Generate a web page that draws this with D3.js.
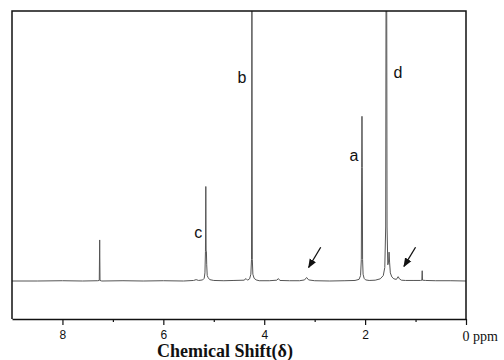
<!DOCTYPE html>
<html><head><meta charset="utf-8">
<script src="https://cdn.jsdelivr.net/npm/d3@7/dist/d3.min.js"></script>
<style>html,body{margin:0;padding:0;background:#fff;}</style>
</head><body>
<svg id="chart" width="504" height="360"></svg>
<script>
// ---- data ----
const majorTicks = [8, 6, 4, 2, 0];
const minorTicks = [7, 5, 3, 1];
const tickLabels = ["8", "6", "4", "2", "0 ppm"];
const xTitle = "Chemical Shift(δ)";
// spectrum points: [ppm, intensity]
const spectrum = [
  [9.0,0],[8.5,0],[8.0,0.1],[7.6,0],[7.30,0.1],[7.27,0.2],[7.262,15.2],[7.255,0.2],[7.22,0],
  [6.8,0.1],[6.4,0],[6.0,0.1],[5.6,0],[5.40,0.2],[5.35,0.5],[5.30,0.2],[5.22,0.4],[5.19,1],[5.175,3],
  [5.165,11],[5.158,35],[5.152,11],[5.146,11],[5.14,6],[5.13,2],[5.11,1.2],[5.08,0.5],[5.0,0.2],
  [4.8,0.1],[4.6,0.2],[4.40,0.3],[4.36,0.9],[4.33,0.3],[4.29,0.8],[4.265,2.5],[4.252,8],[4.244,110],
  [4.236,8],[4.225,2.5],[4.20,1],[4.16,0.4],[4.1,0.1],[3.9,0.1],[3.75,0.3],[3.72,0.9],[3.69,0.2],
  [3.5,0.1],[3.3,0.1],[3.2,0.4],[3.16,1.3],[3.12,0.4],[3.0,0.1],[2.7,0],[2.4,0.1],[2.2,0.2],[2.12,0.6],
  [2.09,2],[2.075,8],[2.068,42],[2.062,61],[2.056,42],[2.05,8],[2.04,2.5],[2.02,1],[1.99,0.4],[1.92,0.2],
  [1.8,0.3],[1.70,0.8],[1.64,2],[1.61,5],[1.592,20],[1.585,110],[1.572,110],[1.565,20],[1.55,6],
  [1.535,7],[1.525,10.7],[1.515,7],[1.50,3],[1.47,1.5],[1.43,0.8],[1.38,0.6],[1.345,1.6],[1.32,0.8],
  [1.28,0.3],[1.2,0.2],[1.05,0.2],[0.9,0.2],[0.875,0.3],[0.868,3.8],[0.862,0.3],[0.8,0.2],[0.6,0.1],
  [0.3,0.1],[0,0]
];
const peakLabels = [
  {text:"b", ppm:4.44, y:75.5},
  {text:"d", ppm:1.35, y:77.4},
  {text:"a", ppm:2.22, y:46.7},
  {text:"c", ppm:5.31, y:18.1}
];
const arrows = [
  {from:[2.88,12.5], to:[3.12,5.0]},
  {from:[1.00,12.5], to:[1.23,5.4]}
];

// ---- layout ----
const svg = d3.select("#chart");
const L = 12, R = 466, T = 11, B = 319;
const x = d3.scaleLinear().domain([9, 0]).range([L, R]);
const y = d3.scaleLinear().domain([0, 100]).range([281, T]);

svg.append("defs").append("clipPath").attr("id","clip")
  .append("rect").attr("x",L).attr("y",T).attr("width",R-L).attr("height",B-T);
svg.select("defs").append("marker").attr("id","ah")
  .attr("viewBox","0 0 10 10").attr("refX",9).attr("refY",5)
  .attr("markerWidth",7).attr("markerHeight",7).attr("orient","auto")
  .append("path").attr("d","M0,1 L10,5 L0,9 Z").attr("fill","#111");

// spectrum
const line = d3.line().x(d => x(d[0])).y(d => y(d[1]));
svg.append("path").datum(spectrum)
  .attr("clip-path","url(#clip)")
  .attr("d", line).attr("fill","none").attr("stroke","#555").attr("stroke-width",1);

// frame
svg.append("path")
  .attr("d", `M${L},${B} L${L},${T} L${R},${T} L${R},${B}`)
  .attr("fill","none").attr("stroke","#111").attr("stroke-width",1.5);

// axis
const ax = svg.append("g").attr("transform",`translate(0,${B})`)
  .call(d3.axisBottom(x).tickValues(majorTicks).tickSize(6).tickSizeOuter(0)
    .tickFormat((d,i) => tickLabels[i]));
ax.select(".domain").attr("stroke","#111").attr("stroke-width",1.5);
ax.selectAll(".tick line").attr("stroke","#111").attr("stroke-width",1.2);
ax.selectAll(".tick text").attr("font-family","Liberation Sans, Arial, sans-serif")
  .attr("font-size",12).attr("fill","#111").attr("dy","0.9em");
ax.selectAll(".tick text").filter(d => d === 0)
  .attr("font-family","Liberation Serif, Times New Roman, serif").attr("font-size",14)
  .attr("text-anchor","start").attr("x",-4);
const ax2 = svg.append("g").attr("transform",`translate(0,${B})`)
  .call(d3.axisBottom(x).tickValues(minorTicks).tickSize(3).tickFormat(""));
ax2.select(".domain").remove();
ax2.selectAll(".tick line").attr("stroke","#111").attr("stroke-width",1.2);

// x title
svg.append("text").attr("x", 225).attr("y", 357).attr("text-anchor","middle")
  .attr("font-family","Liberation Serif, Times New Roman, serif").attr("font-weight","bold")
  .attr("font-size",18).attr("fill","#111").text(xTitle);

// peak labels
svg.selectAll(".pl").data(peakLabels).enter().append("text")
  .attr("x", d => x(d.ppm)).attr("y", d => y(d.y)).attr("dy","0.35em")
  .attr("text-anchor","middle")
  .attr("font-family","Liberation Sans, Arial, sans-serif").attr("font-size",16)
  .attr("fill","#111").text(d => d.text);

// arrows
svg.selectAll(".ar").data(arrows).enter().append("line")
  .attr("x1", d => x(d.from[0])).attr("y1", d => y(d.from[1]))
  .attr("x2", d => x(d.to[0])).attr("y2", d => y(d.to[1]))
  .attr("stroke","#111").attr("stroke-width",1.3).attr("marker-end","url(#ah)");
</script>
</body></html>
